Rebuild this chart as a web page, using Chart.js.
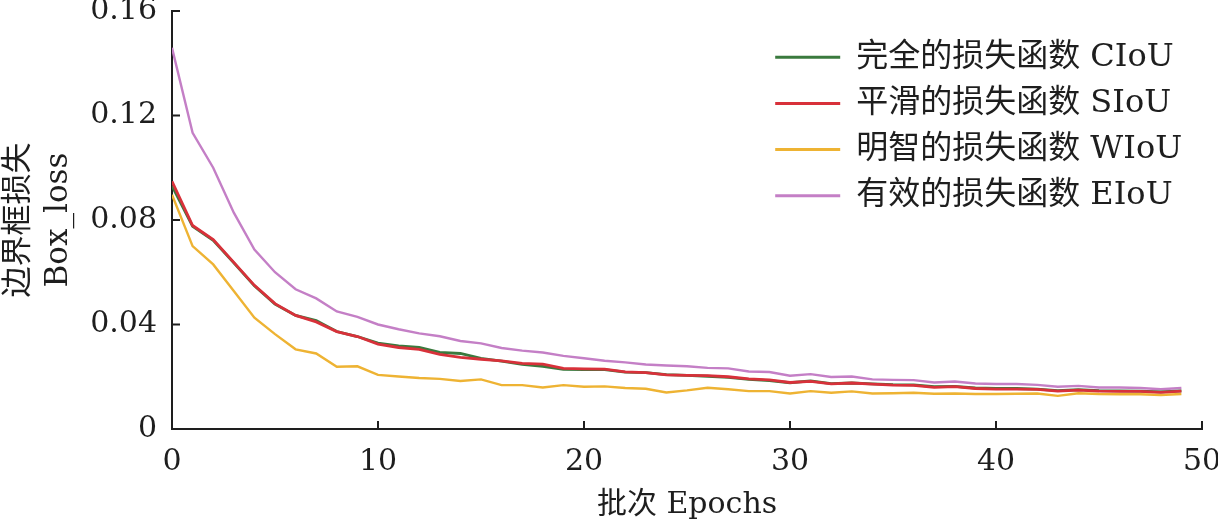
<!DOCTYPE html>
<html>
<head>
<meta charset="utf-8">
<script src="https://cdn.jsdelivr.net/npm/chart.js@4/dist/chart.umd.min.js"></script>
<style>
  html, body { margin: 0; padding: 0; background: #fff; }
  #wrap { width: 1218px; height: 526px; position: relative; }
</style>
</head>
<body>
<div id="wrap"><canvas id="chart"></canvas></div>
<script>
const epochs = [0,1,2,3,4,5,6,7,8,9,10,11,12,13,14,15,16,17,18,19,20,21,22,23,24,
  25,26,27,28,29,30,31,32,33,34,35,36,37,38,39,40,41,42,43,44,45,46,47,48,49];

const seriesNames = ['完全的损失函数 CIoU', '平滑的损失函数 SIoU', '明智的损失函数 WIoU', '有效的损失函数 EIoU'];

const ciou = [0.0930,0.0776,0.0722,0.0636,0.0548,0.0478,0.0435,0.0415,0.0373,0.0354,
  0.0329,0.0318,0.0312,0.0293,0.0289,0.0270,0.0260,0.0247,0.0240,0.0228,
  0.0227,0.0227,0.0218,0.0216,0.0208,0.0205,0.0202,0.0198,0.0190,0.0185,
  0.0177,0.0184,0.0174,0.0176,0.0173,0.0170,0.0169,0.0162,0.0163,0.0157,
  0.0155,0.0155,0.0153,0.0147,0.0151,0.0147,0.0146,0.0145,0.0142,0.0146];

const siou = [0.0948,0.0779,0.0725,0.0638,0.0550,0.0480,0.0435,0.0410,0.0373,0.0354,
  0.0325,0.0312,0.0305,0.0286,0.0274,0.0267,0.0261,0.0251,0.0248,0.0232,
  0.0230,0.0229,0.0219,0.0216,0.0207,0.0205,0.0204,0.0200,0.0192,0.0188,
  0.0178,0.0182,0.0173,0.0176,0.0172,0.0168,0.0167,0.0159,0.0162,0.0155,
  0.0153,0.0153,0.0152,0.0145,0.0149,0.0145,0.0144,0.0144,0.0140,0.0145];

const wiou = [0.0897,0.0700,0.0630,0.0528,0.0426,0.0363,0.0305,0.0289,0.0238,0.0240,
  0.0207,0.0201,0.0195,0.0192,0.0184,0.0190,0.0168,0.0168,0.0159,0.0168,
  0.0162,0.0163,0.0157,0.0154,0.0140,0.0148,0.0158,0.0152,0.0145,0.0145,
  0.0136,0.0145,0.0139,0.0144,0.0136,0.0137,0.0139,0.0135,0.0136,0.0134,
  0.0134,0.0135,0.0136,0.0127,0.0137,0.0134,0.0133,0.0133,0.0130,0.0134];

const eiou = [0.1459,0.1134,0.1000,0.0828,0.0687,0.0600,0.0535,0.0500,0.0450,0.0429,
  0.0400,0.0382,0.0366,0.0355,0.0337,0.0328,0.0310,0.0300,0.0293,0.0280,
  0.0271,0.0261,0.0255,0.0247,0.0243,0.0240,0.0234,0.0232,0.0220,0.0218,
  0.0204,0.0210,0.0199,0.0201,0.0190,0.0188,0.0187,0.0178,0.0182,0.0174,
  0.0172,0.0172,0.0169,0.0162,0.0165,0.0159,0.0159,0.0157,0.0152,0.0157];

const xTicks = [0, 10, 20, 30, 40, 50];
const xTickLabels = ['0', '10', '20', '30', '40', '50'];
const yTicks = [0, 0.04, 0.08, 0.12, 0.16];
const yTickLabels = ['0', '0.04', '0.08', '0.12', '0.16'];

const FONT = '"DejaVu Serif", "Noto Sans CJK SC", serif';
const INK = '#1e1e1e';

const toPoints = (vals) => vals.map((v, i) => ({ x: epochs[i], y: v }));

// ticks point inward, drawn from the scales
const innerTicks = {
  id: 'innerTicks',
  afterDraw(chart) {
    const { ctx, chartArea } = chart;
    const xs = chart.scales.x, ys = chart.scales.y;
    ctx.save();
    ctx.strokeStyle = INK;
    ctx.lineWidth = 2;
    ctx.beginPath();
    xs.ticks.forEach(t => {
      const px = xs.getPixelForValue(t.value);
      ctx.moveTo(px, chartArea.bottom);
      ctx.lineTo(px, chartArea.bottom - 8);
    });
    ys.ticks.forEach(t => {
      const py = ys.getPixelForValue(t.value);
      ctx.moveTo(chartArea.left, py);
      ctx.lineTo(chartArea.left + 8, py);
    });
    ctx.stroke();
    ctx.restore();
  }
};

// move the legend box to the upper right of the plot
const legendSpot = {
  id: 'legendSpot',
  afterUpdate(chart) {
    const lg = chart.legend;
    if (!lg) return;
    lg.left = 761;
    lg.top = 27;
    lg.right = lg.left + lg.width;
    lg.bottom = lg.top + lg.height;
    lg.adjustHitBoxes();
  }
};

new Chart(document.getElementById('chart'), {
  type: 'line',
  data: {
    datasets: [
      { label: seriesNames[0], data: toPoints(ciou), borderColor: '#3a7a3e', backgroundColor: '#3a7a3e', borderWidth: 2.8, order: 1 },
      { label: seriesNames[1], data: toPoints(siou), borderColor: '#d8313a', backgroundColor: '#d8313a', borderWidth: 2.8, order: 0 },
      { label: seriesNames[2], data: toPoints(wiou), borderColor: '#eeb333', backgroundColor: '#eeb333', borderWidth: 2.4, order: 2 },
      { label: seriesNames[3], data: toPoints(eiou), borderColor: '#c47fc6', backgroundColor: '#c47fc6', borderWidth: 2.4, order: 3 },
    ],
  },
  options: {
    responsive: true,
    maintainAspectRatio: false,
    animation: false,
    layout: { padding: { left: 0, top: 11, right: 16, bottom: 0 } },
    elements: {
      point: { radius: 0 },
      line: { tension: 0 },
    },
    scales: {
      x: {
        type: 'linear',
        min: 0,
        max: 50,
        afterBuildTicks: (scale) => { scale.ticks = xTicks.map(v => ({ value: v })); },
        afterFit: (scale) => {
          scale.height = 97;
          scale.paddingLeft = 0; scale.paddingRight = 0;
        },
        grid: { display: false, drawTicks: false },
        border: { display: true, color: INK, width: 2 },
        ticks: {
          color: INK,
          padding: 15,
          maxRotation: 0,
          font: { family: FONT, size: 30 },
          callback: (v) => xTickLabels[xTicks.indexOf(v)],
        },
        title: {
          display: true,
          text: '批次 Epochs',
          color: INK,
          font: { family: FONT, size: 30, lineHeight: 1.2 },
          padding: { top: 0, bottom: 3 },
        },
      },
      y: {
        min: 0,
        max: 0.16,
        afterBuildTicks: (scale) => { scale.ticks = yTicks.map(v => ({ value: v })); },
        afterFit: (scale) => {
          scale.width = 172;
          scale.paddingTop = 0; scale.paddingBottom = 0;
        },
        grid: { display: false, drawTicks: false },
        border: { display: true, color: INK, width: 2 },
        ticks: {
          color: INK,
          padding: 15,
          font: { family: FONT, size: 30 },
          callback: (v) => yTickLabels[yTicks.indexOf(v)],
        },
        title: {
          display: true,
          text: ['边界框损失', 'Box_loss'],
          color: INK,
          font: { family: FONT, size: 31, lineHeight: 1.29 },
          padding: { top: -1, bottom: 0 },
        },
      },
    },
    plugins: {
      legend: {
        position: 'chartArea',
        fullSize: false,
        align: 'start',
        labels: {
          color: INK,
          boxWidth: 65,
          boxHeight: 3,
          padding: 14.2,
          font: { family: FONT, size: 32 },
          generateLabels: (chart) => chart.data.datasets.map((ds, i) => ({
            text: ds.label,
            fillStyle: ds.borderColor,
            strokeStyle: ds.borderColor,
            lineWidth: 0,
            hidden: !chart.isDatasetVisible(i),
            datasetIndex: i,
            fontColor: INK,
          })),
        },
      },
      tooltip: { enabled: false },
    },
  },
  plugins: [innerTicks, legendSpot],
});
</script>
</body>
</html>
